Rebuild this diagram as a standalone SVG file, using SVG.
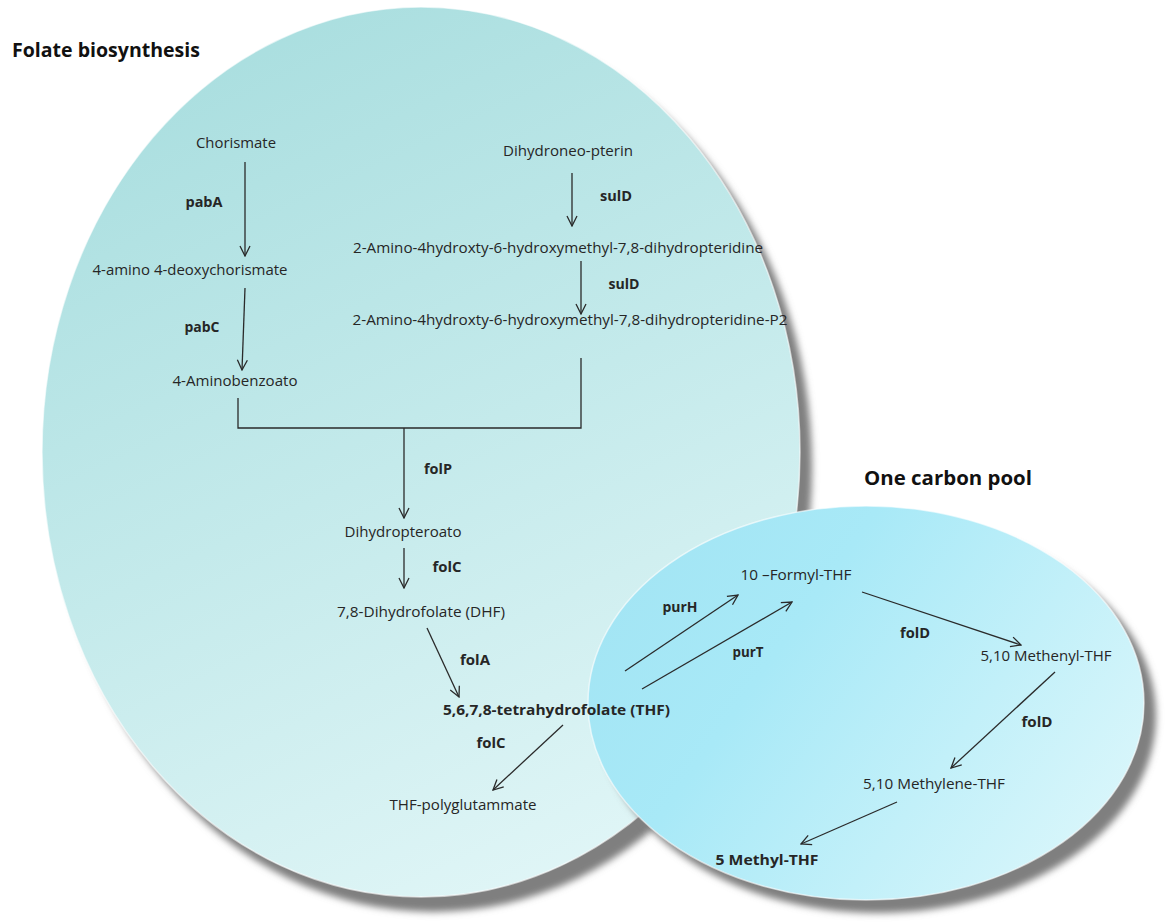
<svg xmlns="http://www.w3.org/2000/svg" width="1167" height="924" viewBox="0 0 1167 924">
<defs>
<linearGradient id="gBig" x1="0.3" y1="0" x2="0.7" y2="1">
<stop offset="0" stop-color="#a9dedf"/>
<stop offset="0.5" stop-color="#c4eaeb"/>
<stop offset="1" stop-color="#e1f6f7"/>
</linearGradient>
<linearGradient id="gSmall" x1="0" y1="0.3" x2="1" y2="0.8">
<stop offset="0" stop-color="#a3e5f4"/>
<stop offset="0.3" stop-color="#a8e9f7"/>
<stop offset="1" stop-color="#dcf7fb"/>
</linearGradient>
<filter id="blur" x="-10%" y="-10%" width="120%" height="120%">
<feGaussianBlur stdDeviation="3.5"/>
</filter>
<marker id="arr" viewBox="0 0 12 12" refX="11" refY="6" markerWidth="12" markerHeight="12" markerUnits="userSpaceOnUse" orient="auto">
<path d="M1,1 L11,6 L1,11" fill="none" stroke="#2a2a2a" stroke-width="1.3"/>
</marker>
<style>
text{font-family:"Open Sans","Liberation Sans",sans-serif;fill:#262626;}
.t{font-size:14px;}
.b{font-size:14px;font-weight:bold;}
.h{font-size:19px;font-weight:bold;fill:#111;}
.c{text-anchor:middle;}
.ln{fill:none;stroke:#2a2a2a;stroke-width:1.3;}
.ar{fill:none;stroke:#2a2a2a;stroke-width:1.3;marker-end:url(#arr);}
.sh{fill:#7f7f7f;}
.rim{stroke:#ffffff;stroke-opacity:0.6;stroke-width:1.5;}
</style>
</defs>
<rect width="1167" height="924" fill="#ffffff"/>
<g id="folate-region">
<ellipse class="sh" cx="433" cy="467" rx="379" ry="445" filter="url(#blur)"/>
<ellipse class="rim" cx="421" cy="452" rx="379" ry="445" fill="url(#gBig)"/>
</g>
<g id="one-carbon-region">
<ellipse class="sh" cx="878" cy="716" rx="278" ry="197" filter="url(#blur)"/>
<ellipse class="rim" cx="866" cy="703" rx="278" ry="197" fill="url(#gSmall)"/>
</g>
<g id="titles">
<text id="title-folate" class="h" x="12" y="57" textLength="188" lengthAdjust="spacingAndGlyphs">Folate biosynthesis</text>
<text id="title-onecarbon" class="h" x="864" y="485" textLength="168" lengthAdjust="spacingAndGlyphs">One carbon pool</text>
</g>
<g id="connectors">
<line class="ar" x1="245" y1="162" x2="245" y2="256"/>
<line class="ar" x1="245" y1="288" x2="242" y2="370"/>
<line class="ar" x1="572" y1="173" x2="572" y2="226"/>
<line class="ar" x1="581" y1="261" x2="581" y2="314"/>
<polyline class="ln" points="238,398 238,428 581,428 581,358"/>
<line class="ar" x1="404" y1="428" x2="404" y2="518"/>
<line class="ar" x1="404" y1="548" x2="404" y2="588"/>
<line class="ar" x1="427" y1="628" x2="459" y2="697"/>
<line class="ar" x1="563" y1="725" x2="493" y2="790"/>
<line class="ar" x1="625" y1="671" x2="738" y2="595"/>
<line class="ar" x1="642" y1="689" x2="792" y2="602"/>
<line class="ar" x1="862" y1="592" x2="1021" y2="645"/>
<line class="ar" x1="1055" y1="672" x2="951" y2="768"/>
<line class="ar" x1="897" y1="802" x2="801" y2="844"/>
</g>
<g id="n-chorismate"><text class="t c" x="236" y="148" textLength="80" lengthAdjust="spacingAndGlyphs">Chorismate</text></g>
<g id="e-pabA"><text class="b c" x="204" y="207" textLength="37" lengthAdjust="spacingAndGlyphs">pabA</text></g>
<g id="n-aminodeoxychorismate"><text class="t c" x="190" y="275" textLength="195" lengthAdjust="spacingAndGlyphs">4-amino 4-deoxychorismate</text></g>
<g id="e-pabC"><text class="b c" x="202" y="332" textLength="35" lengthAdjust="spacingAndGlyphs">pabC</text></g>
<g id="n-aminobenzoato"><text class="t c" x="235" y="386" textLength="125" lengthAdjust="spacingAndGlyphs">4-Aminobenzoato</text></g>
<g id="n-dihydroneopterin"><text class="t c" x="568" y="156" textLength="130" lengthAdjust="spacingAndGlyphs">Dihydroneo-pterin</text></g>
<g id="e-sulD1"><text class="b c" x="616" y="201" textLength="32" lengthAdjust="spacingAndGlyphs">sulD</text></g>
<g id="n-pteridine"><text class="t c" x="558" y="253" textLength="410" lengthAdjust="spacingAndGlyphs">2-Amino-4hydroxty-6-hydroxymethyl-7,8-dihydropteridine</text></g>
<g id="e-sulD2"><text class="b c" x="624" y="289" textLength="31" lengthAdjust="spacingAndGlyphs">sulD</text></g>
<g id="n-pteridine-p2"><text class="t c" x="570" y="325" textLength="435" lengthAdjust="spacingAndGlyphs">2-Amino-4hydroxty-6-hydroxymethyl-7,8-dihydropteridine-P2</text></g>
<g id="e-folP"><text class="b c" x="438" y="474" textLength="28" lengthAdjust="spacingAndGlyphs">folP</text></g>
<g id="n-dihydropteroato"><text class="t c" x="403" y="537" textLength="117" lengthAdjust="spacingAndGlyphs">Dihydropteroato</text></g>
<g id="e-folC1"><text class="b c" x="447" y="572" textLength="29" lengthAdjust="spacingAndGlyphs">folC</text></g>
<g id="n-dhf"><text class="t c" x="421" y="617" textLength="168" lengthAdjust="spacingAndGlyphs">7,8-Dihydrofolate (DHF)</text></g>
<g id="e-folA"><text class="b c" x="475" y="665" textLength="30" lengthAdjust="spacingAndGlyphs">folA</text></g>
<g id="n-thf"><text class="b" x="443" y="715" textLength="227" lengthAdjust="spacingAndGlyphs">5,6,7,8-tetrahydrofolate (THF)</text></g>
<g id="e-folC2"><text class="b c" x="491" y="748" textLength="29" lengthAdjust="spacingAndGlyphs">folC</text></g>
<g id="n-thf-polyglu"><text class="t c" x="463" y="810" textLength="147" lengthAdjust="spacingAndGlyphs">THF-polyglutammate</text></g>
<g id="n-formyl"><text class="t c" x="796" y="580" textLength="111" lengthAdjust="spacingAndGlyphs">10 –Formyl-THF</text></g>
<g id="e-purH"><text class="b c" x="680" y="612" textLength="35" lengthAdjust="spacingAndGlyphs">purH</text></g>
<g id="e-purT"><text class="b c" x="748" y="657" textLength="31" lengthAdjust="spacingAndGlyphs">purT</text></g>
<g id="e-folD1"><text class="b c" x="915" y="638" textLength="30" lengthAdjust="spacingAndGlyphs">folD</text></g>
<g id="n-methenyl"><text class="t c" x="1046" y="661" textLength="131" lengthAdjust="spacingAndGlyphs">5,10 Methenyl-THF</text></g>
<g id="e-folD2"><text class="b c" x="1037" y="727" textLength="31" lengthAdjust="spacingAndGlyphs">folD</text></g>
<g id="n-methylene"><text class="t c" x="934" y="789" textLength="142" lengthAdjust="spacingAndGlyphs">5,10 Methylene-THF</text></g>
<g id="n-methyl"><text class="b c" x="767" y="865" textLength="103" lengthAdjust="spacingAndGlyphs">5 Methyl-THF</text></g>
</svg>
